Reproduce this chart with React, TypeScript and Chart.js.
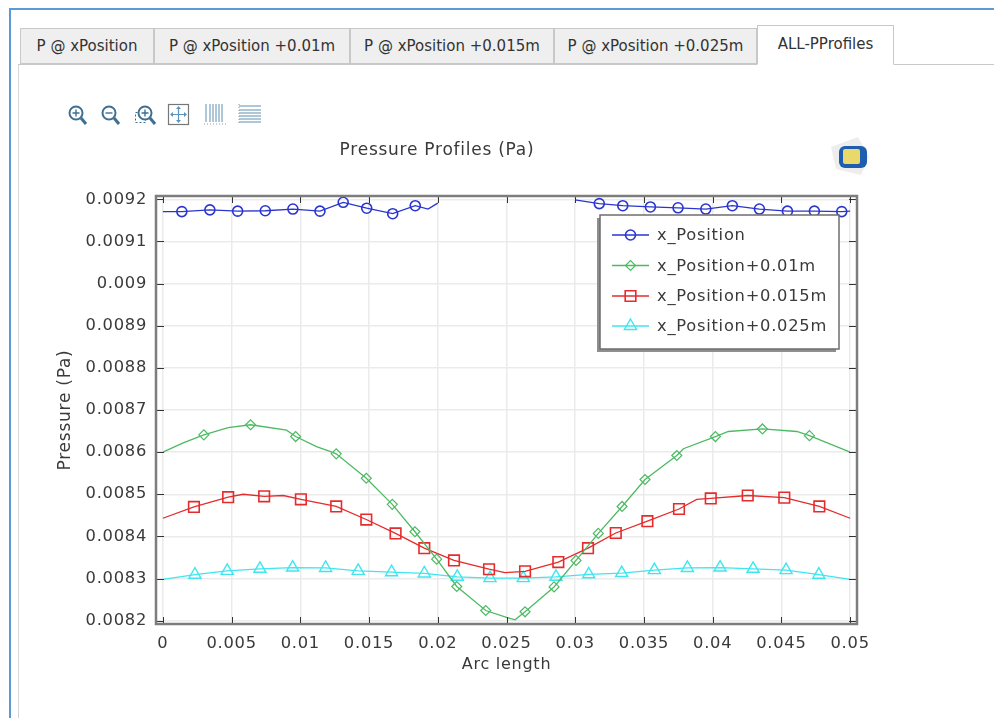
import React, { useEffect, useRef } from "react";
import { Chart, registerables } from "chart.js";
import { drawPoint } from "chart.js/helpers";

Chart.register(...registerables);

const tabLabels = ["P @ xPosition", "P @ xPosition +0.01m", "P @ xPosition +0.015m", "P @ xPosition +0.025m", "ALL-PProfiles"];
const xTicks = [0, 0.005, 0.01, 0.015, 0.02, 0.025, 0.03, 0.035, 0.04, 0.045, 0.05];
const yTicks = [0.0082, 0.0083, 0.0084, 0.0085, 0.0086, 0.0087, 0.0088, 0.0089, 0.009, 0.0091, 0.0092];
const seriesNames = ["x_Position", "x_Position+0.01m", "x_Position+0.015m", "x_Position+0.025m"];

const blueX = [0, 0.00138, 0.00342, 0.00544, 0.00745, 0.00946, 0.01143, 0.01312, 0.01483, 0.01672, 0.01836, 0.01929, 0.02, 0.025, 0.02998, 0.03175, 0.03346, 0.03547, 0.03748, 0.0395, 0.04143, 0.0434, 0.04544, 0.0474, 0.04939, 0.05];
const blueY = [0.009171, 0.009171, 0.009175, 0.009172, 0.009173, 0.009177, 0.009172, 0.009193, 0.009179, 0.009166, 0.009185, 0.009177, 0.009191, null, 0.009199, 0.00919, 0.009185, 0.009182, 0.00918, 0.009177, 0.009185, 0.009177, 0.009172, 0.009172, 0.009171, 0.009172];
const blueMarks = [0, 1, 1, 1, 1, 1, 1, 1, 1, 1, 1, 0, 0, 0, 0, 1, 1, 1, 1, 1, 1, 1, 1, 1, 1, 0];

const greenX = [0, 0.00148, 0.00298, 0.00475, 0.00638, 0.009, 0.00966, 0.01118, 0.01215, 0.01261, 0.0148, 0.01669, 0.01834, 0.01992, 0.02138, 0.02349, 0.025, 0.02562, 0.02635, 0.02846, 0.03006, 0.03168, 0.03341, 0.03508, 0.03739, 0.03787, 0.0402, 0.04114, 0.04362, 0.04612, 0.04704, 0.05];
const greenY = [0.0086, 0.008622, 0.008641, 0.008658, 0.008665, 0.008652, 0.008637, 0.008613, 0.008602, 0.008596, 0.008538, 0.008476, 0.008411, 0.008346, 0.008281, 0.008224, 0.008208, 0.008202, 0.008221, 0.00828, 0.008343, 0.008407, 0.008471, 0.008535, 0.008592, 0.008608, 0.008637, 0.008649, 0.008655, 0.008649, 0.008639, 0.0086];
const greenMarks = [0, 0, 1, 0, 1, 0, 1, 0, 0, 1, 1, 1, 1, 1, 1, 1, 0, 0, 1, 1, 1, 1, 1, 1, 1, 0, 1, 0, 1, 0, 1, 0];

const redX = [0, 0.00226, 0.00475, 0.00584, 0.00737, 0.00876, 0.01004, 0.01261, 0.0148, 0.01693, 0.01902, 0.02118, 0.02373, 0.02489, 0.02635, 0.02877, 0.03093, 0.03295, 0.03525, 0.03755, 0.03884, 0.03986, 0.04255, 0.04521, 0.04776, 0.05];
const redY = [0.008443, 0.00847, 0.008493, 0.0085, 0.008495, 0.008497, 0.008488, 0.008471, 0.00844, 0.008407, 0.008372, 0.008343, 0.008322, 0.008314, 0.008317, 0.008339, 0.008372, 0.008408, 0.008436, 0.008465, 0.008488, 0.00849, 0.008497, 0.008492, 0.008471, 0.008443];
const redMarks = [0, 1, 1, 0, 1, 0, 1, 1, 1, 1, 1, 1, 1, 0, 1, 1, 1, 1, 1, 1, 0, 1, 1, 1, 1, 0];

const cyanX = [0, 0.00233, 0.00468, 0.00706, 0.00944, 0.01184, 0.01421, 0.01664, 0.01902, 0.02142, 0.0238, 0.02622, 0.0286, 0.03098, 0.03338, 0.03576, 0.03816, 0.04054, 0.04294, 0.04534, 0.04772, 0.05];
const cyanY = [0.008298, 0.008309, 0.008318, 0.008323, 0.008326, 0.008325, 0.008318, 0.008315, 0.008312, 0.008304, 0.008301, 0.008301, 0.008304, 0.00831, 0.008313, 0.00832, 0.008325, 0.008326, 0.008323, 0.00832, 0.008309, 0.008298];
const cyanMarks = [0, 1, 1, 1, 1, 1, 1, 1, 1, 1, 1, 1, 1, 1, 1, 1, 1, 1, 1, 1, 1, 0];

const FONT = "'DejaVu Sans'";
const TEXT = "#3a3a3a";

const zip = (xs: number[], ys: (number | null)[]) => xs.map((x, i) => ({ x, y: ys[i] }));

const makeSet = (i: number, xs: number[], ys: (number | null)[], marks: number[], color: string, style: string, r: number, w: number) => ({
  label: seriesNames[i],
  data: zip(xs, ys),
  showLine: true,
  spanGaps: false,
  borderColor: color,
  borderWidth: 1.3,
  pointStyle: style,
  pointBorderColor: color,
  pointBackgroundColor: "rgba(0,0,0,0)",
  pointBorderWidth: w,
  pointRadius: (c: any) => (marks[c.dataIndex] ? r : 0),
  pointHoverRadius: 0,
  tension: 0,
});

const frameAndLegend = {
  id: "frameAndLegend",
  beforeDraw(chart: any) {
    chart.ctx.letterSpacing = "0.75px";
  },
  afterDatasetsDraw(chart: any) {
    const { ctx, chartArea: a, scales } = chart;
    ctx.save();
    ctx.letterSpacing = "0.75px";
    // inward ticks on all four sides
    ctx.strokeStyle = "#333";
    ctx.lineWidth = 1;
    ctx.beginPath();
    xTicks.forEach((t) => {
      const x = Math.round(scales.x.getPixelForValue(t)) + 0.5;
      ctx.moveTo(x, a.top);
      ctx.lineTo(x, a.top + 7);
      ctx.moveTo(x, a.bottom);
      ctx.lineTo(x, a.bottom - 7);
    });
    yTicks.forEach((t) => {
      const y = Math.round(scales.y.getPixelForValue(t)) + 0.5;
      ctx.moveTo(a.left, y);
      ctx.lineTo(a.left + 8, y);
      ctx.moveTo(a.right, y);
      ctx.lineTo(a.right - 8, y);
    });
    ctx.stroke();
    // frame
    ctx.strokeStyle = "#7d7d7d";
    ctx.lineWidth = 2.5;
    ctx.strokeRect(a.left, a.top, a.right - a.left, a.bottom - a.top);

    // legend, inset over the plot
    const box = { x: 600, y: 215, w: 239, h: 134 };
    ctx.fillStyle = "#8f8f8f";
    ctx.fillRect(box.x - 3, box.y + 3, box.w, box.h);
    ctx.fillStyle = "#fff";
    ctx.fillRect(box.x, box.y, box.w, box.h);
    ctx.strokeStyle = "#6e6e6e";
    ctx.lineWidth = 1.5;
    ctx.strokeRect(box.x, box.y, box.w, box.h);
    const rows = [235, 265.5, 296, 326];
    const radii = [5, 5, 7.5, 7];
    chart.data.datasets.forEach((d: any, i: number) => {
      const y = rows[i];
      ctx.strokeStyle = d.borderColor;
      ctx.lineWidth = 1.5;
      ctx.beginPath();
      ctx.moveTo(612, y);
      ctx.lineTo(649, y);
      ctx.stroke();
      ctx.fillStyle = "rgba(0,0,0,0)";
      ctx.lineWidth = d.pointBorderWidth;
      drawPoint(ctx, { pointStyle: d.pointStyle, radius: radii[i], borderWidth: d.pointBorderWidth, rotation: 0 }, 630.5, y);
      ctx.fillStyle = TEXT;
      ctx.font = `16.3px ${FONT}`;
      ctx.textAlign = "left";
      ctx.textBaseline = "middle";
      ctx.fillText(d.label, 657, y + 1);
    });
    ctx.restore();
  },
};

const tabs = [
  { l: 20, w: 134 },
  { l: 154, w: 196 },
  { l: 350, w: 204 },
  { l: 554, w: 203 },
  { l: 757, w: 137 },
];

function Magnifier({ x, sign, dashed }: { x: number; sign: string; dashed?: boolean }) {
  return (
    <svg style={{ position: "absolute", left: x, top: 104 }} width="24" height="22" viewBox="0 0 24 22">
      {dashed ? <rect x="0.5" y="8.5" width="10" height="10" fill="none" stroke="#3f6f91" strokeWidth="1" strokeDasharray="2 2" /> : null}
      <circle cx="10" cy="9" r="6.5" fill="#fff" stroke="#3f6f91" strokeWidth="2" />
      <path d="M15 14 L20 20" stroke="#3f6f91" strokeWidth="3" />
      <path d={sign} stroke="#3f6f91" strokeWidth="1.4" />
    </svg>
  );
}

function GridIcon({ x, vertical }: { x: number; vertical: boolean }) {
  const lines = [3, 7, 10, 13, 16, 19];
  return (
    <svg style={{ position: "absolute", left: x, top: 103 }} width="24" height="24" viewBox="0 0 24 24">
      {lines.map((p) =>
        vertical ? <path key={p} d={`M${p} 1V19`} stroke="#5f8fae" strokeWidth="1" /> : <path key={p} d={`M1 ${p}H23`} stroke="#5f8fae" strokeWidth="1" />
      )}
      <path d={vertical ? "M1 21H23" : "M1 1V22"} stroke="#999" strokeWidth="1" strokeDasharray="1 2" />
    </svg>
  );
}

export default function App() {
  const ref = useRef<HTMLCanvasElement>(null);
  useEffect(() => {
    const tickFont = { family: FONT, size: 16.3 };
    const chart = new Chart(ref.current as HTMLCanvasElement, {
      type: "scatter",
      data: {
        datasets: [
          makeSet(0, blueX, blueY, blueMarks, "#2a35cf", "circle", 5, 1.6),
          makeSet(1, greenX, greenY, greenMarks, "#4dba63", "rectRot", 5, 1.2),
          makeSet(2, redX, redY, redMarks, "#e52b2b", "rect", 7.5, 1.6),
          makeSet(3, cyanX, cyanY, cyanMarks, "#3fe6ef", "triangle", 7, 1.4),
        ] as any,
      },
      options: {
        animation: false,
        responsive: false,
        layout: { padding: { top: 140, right: 17, bottom: 44, left: 17 } },
        plugins: {
          legend: { display: false },
          tooltip: { enabled: false },
          title: {
            display: true,
            text: "Pressure Profiles (Pa)",
            color: TEXT,
            font: { family: FONT, size: 17, weight: "normal", lineHeight: 1.2 },
            padding: { top: 0, bottom: 35.6 },
          },
        },
        scales: {
          x: {
            type: "linear",
            min: -0.0005,
            max: 0.0505,
            afterBuildTicks: (s: any) => {
              s.ticks = xTicks.map((value) => ({ value }));
            },
            afterFit: (s: any) => {
              s.height = 50;
              s.paddingLeft = 0;
              s.paddingRight = 0;
            },
            grid: { color: "#ebebeb", lineWidth: 1.5, drawTicks: false },
            border: { display: false },
            ticks: { color: TEXT, font: tickFont, padding: 10, maxRotation: 0, callback: (v: any) => String(v) },
            title: { display: true, text: "Arc length", color: TEXT, font: { family: FONT, size: 16, lineHeight: 1.2 }, padding: { top: 0, bottom: 0 } },
          },
          y: {
            type: "linear",
            min: 0.008192,
            max: 0.009208,
            afterBuildTicks: (s: any) => {
              s.ticks = yTicks.map((value) => ({ value }));
            },
            afterFit: (s: any) => {
              s.width = 139;
              s.paddingTop = 0;
              s.paddingBottom = 0;
            },
            grid: { color: "#ebebeb", lineWidth: 1.5, drawTicks: false },
            border: { display: false },
            ticks: { color: TEXT, font: tickFont, padding: 9, callback: (v: any) => String(v) },
            title: { display: true, text: "Pressure (Pa)", color: TEXT, font: { family: FONT, size: 17, lineHeight: 1.2 }, padding: { top: 38, bottom: 0 } },
          },
        },
      },
      plugins: [frameAndLegend],
    } as any);
    return () => chart.destroy();
  }, []);

  return (
    <div style={{ position: "fixed", left: 0, top: 0, width: 994, height: 718, overflow: "hidden", background: "#fff", fontFamily: FONT, filter: "blur(0.35px)" }}>
      <div style={{ position: "absolute", left: 9, top: 8, width: 2, height: 710, background: "#5b9bd5" }} />
      <div style={{ position: "absolute", left: 9, top: 8, width: 985, height: 2, background: "#5b9bd5" }} />
      <div style={{ position: "absolute", left: 18, top: 64, width: 1, height: 654, background: "#d6d6d6" }} />
      <div style={{ position: "absolute", left: 18, top: 64, width: 976, height: 1, background: "#c8c8c8" }} />
      {tabLabels.map((t, i) => {
        const active = i === 4;
        return (
          <div
            key={t}
            style={{
              position: "absolute",
              left: tabs[i].l,
              top: active ? 25 : 28,
              width: tabs[i].w,
              height: active ? 40 : 36,
              boxSizing: "border-box",
              border: "1px solid #c8c8c8",
              borderBottom: active ? "1px solid #fff" : "1px solid #c8c8c8",
              background: active ? "#fff" : "#efefef",
              fontSize: 15,
              color: "#333",
              textAlign: "center",
              lineHeight: active ? "37px" : "34px",
              whiteSpace: "nowrap",
            }}
          >
            {t}
          </div>
        );
      })}
      <Magnifier x={66} sign="M6.5 9H13.5M10 5.5V12.5" />
      <Magnifier x={99} sign="M6.5 9H13.5" />
      <Magnifier x={135} sign="M6.5 9H13.5M10 5.5V12.5" dashed />
      <svg style={{ position: "absolute", left: 167, top: 103 }} width="24" height="24" viewBox="0 0 24 24">
        <rect x="1.5" y="1.5" width="20" height="20" fill="#fff" stroke="#777" strokeWidth="1.2" />
        <path d="M11.5 5V18M5 11.5H18" stroke="#5b93bb" strokeWidth="1.2" />
        <path d="M11.5 3L9 6H14ZM11.5 20L9 17H14ZM3 11.5L6 9V14ZM20 11.5L17 9V14Z" fill="#5b93bb" />
      </svg>
      <GridIcon x={203} vertical />
      <GridIcon x={238} vertical={false} />
      <svg style={{ position: "absolute", left: 828, top: 135 }} width="48" height="42" viewBox="0 0 48 42">
        <path d="M3 12 L30 2 L41 22 L33 40 L8 34 Z" fill="#ededed" />
        <rect x="11" y="11" width="28" height="22" rx="6" fill="#1d5fae" />
        <rect x="15" y="14" width="17" height="15" rx="2" fill="#e8d96a" />
      </svg>
      <canvas ref={ref} width={874} height={718} style={{ position: "absolute", left: 0, top: 0 }} />
    </div>
  );
}
